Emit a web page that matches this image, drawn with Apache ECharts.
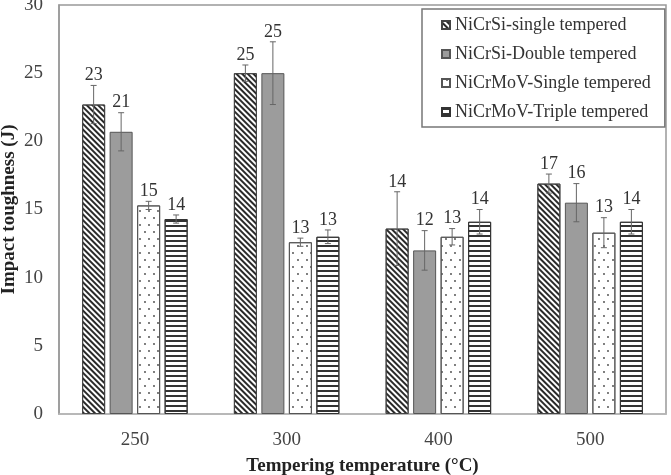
<!DOCTYPE html>
<html>
<head>
<meta charset="utf-8">
<script src="https://cdn.jsdelivr.net/npm/echarts@6/dist/echarts.min.js"></script>
<style>
  html, body { margin: 0; padding: 0; background: #fff; }
  #main { width: 671px; height: 475px; }
</style>
</head>
<body>
<div id="main"></div>
<script>
// 回火温度
var temps = ['250', '300', '400', '500'];

// 冲击韧性 (J) 及误差
var nicrsiSingle = [22.7, 25.0, 13.6, 16.9];
var nicrsiSingleErr = [1.4, 0.6, 2.7, 0.7];
var nicrsiDouble = [20.7, 25.0, 12.0, 15.5];
var nicrsiDoubleErr = [1.4, 2.3, 1.45, 1.4];
var nicrmovSingle = [15.3, 12.6, 13.0, 13.3];
var nicrmovSingleErr = [0.3, 0.3, 0.6, 1.1];
var nicrmovTriple = [14.3, 13.0, 14.1, 14.1];
var nicrmovTripleErr = [0.3, 0.5, 0.9, 0.9];

var yTicks = [0, 5, 10, 15, 20, 25, 30];

var names = [
    'NiCrSi-single tempered',
    'NiCrSi-Double tempered',
    'NiCrMoV-Single tempered',
    'NiCrMoV-Triple tempered'
];
var values = [nicrsiSingle, nicrsiDouble, nicrmovSingle, nicrmovTriple];
var errors = [nicrsiSingleErr, nicrsiDoubleErr, nicrmovSingleErr, nicrmovTripleErr];

var FONT = '"Liberation Serif", "Times New Roman", serif';
var BAR_W = 23;
var BAR_GAP = 4.5;

// 各系列的填充样式
var styles = [
    { color: '#ffffff', borderColor: '#444', borderWidth: 1,
      decal: { symbol: 'rect', color: '#2a2a2a', dashArrayX: [1, 0], dashArrayY: [2, 1.3], rotation: Math.PI / 4 } },
    { color: '#9c9c9c', borderColor: '#555', borderWidth: 1 },
    { color: '#ffffff', borderColor: '#555', borderWidth: 1,
      decal: { symbol: 'circle', color: '#444', symbolSize: 0.9, dashArrayX: [[1.6, 6.4], [0, 4, 1.6, 2.4]], dashArrayY: [1.6, 4.4] } },
    { color: '#ffffff', borderColor: '#333', borderWidth: 1,
      decal: { symbol: 'rect', color: '#333', dashArrayX: [1, 0], dashArrayY: [1.5, 2.5] } }
];

function errorRenderer(k) {
    return function (params, api) {
        var i = api.value(0), v = api.value(1), e = api.value(2);
        var hi = api.coord([i, v + e]);
        var lo = api.coord([i, v - e]);
        var x = hi[0] + (k - 1.5) * (BAR_W + BAR_GAP);
        var cap = 3;
        var st = { stroke: '#666', lineWidth: 1 };
        return {
            type: 'group',
            children: [
                { type: 'line', shape: { x1: x, y1: hi[1], x2: x, y2: lo[1] }, style: st },
                { type: 'line', shape: { x1: x - cap, y1: hi[1], x2: x + cap, y2: hi[1] }, style: st },
                { type: 'line', shape: { x1: x - cap, y1: lo[1], x2: x + cap, y2: lo[1] }, style: st },
                { type: 'text', x: x, y: hi[1] - 1,
                  style: { text: String(Math.round(v)), fill: '#333', font: '18px ' + FONT,
                           align: 'center', verticalAlign: 'bottom' } }
            ]
        };
    };
}

var series = [];
names.forEach(function (n, k) {
    series.push({
        name: n,
        type: 'bar',
        barWidth: BAR_W,
        barGap: (BAR_GAP / BAR_W * 100) + '%',
        data: values[k],
        itemStyle: styles[k],
        emphasis: { disabled: true }
    });
});
names.forEach(function (n, k) {
    series.push({
        type: 'custom',
        renderItem: errorRenderer(k),
        data: values[k].map(function (v, i) { return [i, v, errors[k][i]]; }),
        z: 5,
        silent: true
    });
});

var myChart = echarts.init(document.getElementById('main'));
var option = {
    backgroundColor: '#fff',
    animation: false,
    grid: {
        left: 59, right: 5, top: 5, bottom: 61,
        containLabel: false,
        outerBoundsMode: 'none',
        show: true, borderColor: '#999', borderWidth: 1.5
    },
    legend: {
        data: names,
        orient: 'vertical',
        left: 422, top: 9,
        backgroundColor: '#fff',
        borderColor: '#777',
        borderWidth: 1.5,
        padding: [7, 14, 6, 19],
        itemGap: 11,
        itemWidth: 8,
        itemHeight: 8,
        icon: 'rect',
        textStyle: { fontFamily: FONT, fontSize: 18, color: '#333' }
    },
    xAxis: {
        type: 'category',
        data: temps,
        name: 'Tempering temperature (°C)',
        nameLocation: 'middle',
        nameGap: 43,
        nameMoveOverlap: false,
        nameTextStyle: { fontFamily: FONT, fontSize: 19, fontWeight: 'bold', color: '#222' },
        axisLine: { lineStyle: { color: '#bbb', width: 1.5 } },
        axisTick: { show: false },
        axisLabel: { fontFamily: FONT, fontSize: 19, color: '#444', margin: 17 }
    },
    yAxis: {
        type: 'value',
        min: yTicks[0],
        max: yTicks[yTicks.length - 1],
        interval: yTicks[1] - yTicks[0],
        name: 'Impact toughness (J)',
        nameLocation: 'middle',
        nameGap: 40,
        nameMoveOverlap: false,
        nameRotate: 90,
        nameTextStyle: { fontFamily: FONT, fontSize: 19, fontWeight: 'bold', color: '#222' },
        axisLine: { show: true, lineStyle: { color: '#999', width: 1.5 } },
        axisTick: { show: false },
        splitLine: { show: false },
        axisLabel: { fontFamily: FONT, fontSize: 19, color: '#444', margin: 16 }
    },
    series: series
};
myChart.setOption(option);
</script>
</body>
</html>
